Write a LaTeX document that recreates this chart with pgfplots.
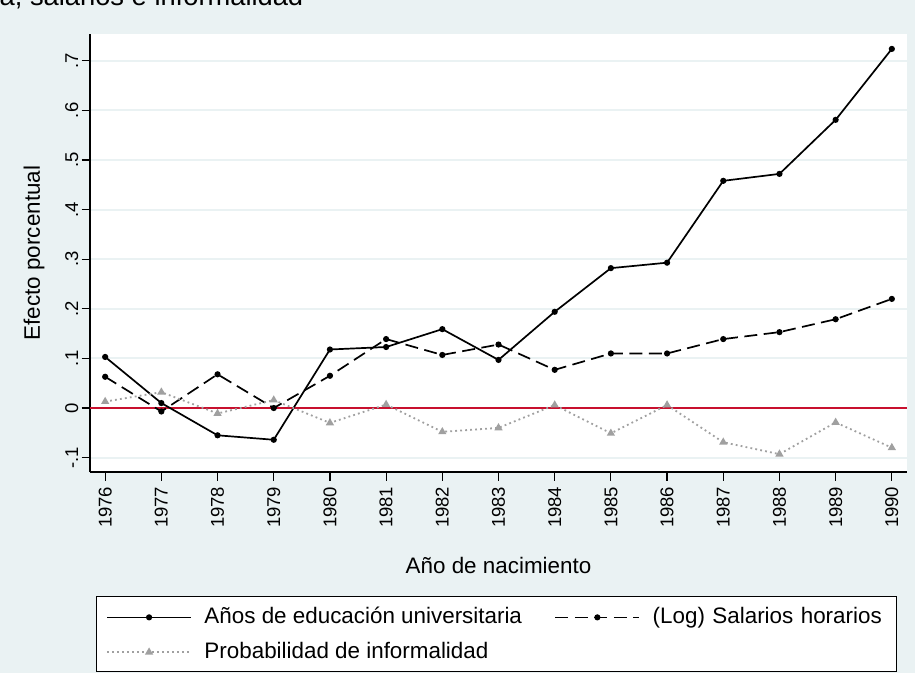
\documentclass[border=0pt]{standalone}
\usepackage{pgfplots}
\pgfplotsset{compat=1.18}
\usepackage{fontspec}
\setmainfont{Liberation Sans}
\definecolor{bg}{RGB}{234,242,243}
\definecolor{zeroline}{RGB}{200,16,46}
\definecolor{dotgray}{RGB}{160,160,160}
\begin{document}
\begin{tikzpicture}[x=1pt,y=1pt]
\useasboundingbox (0,0) rectangle (915,-673);
\fill[bg] (0,0) rectangle (915,-673);
\node[anchor=base east, inner sep=0pt, font=\fontsize{27.3}{30}\selectfont] at (303.5,-5.5) {Educación universitaria, salarios e informalidad};
\begin{axis}[
  at={(90pt,-472pt)}, anchor=south west,
  width=817pt, height=438pt, scale only axis,
  xmin=1975.73, xmax=1990.27, ymin=-0.129, ymax=0.754,
  axis background/.style={fill=white},
  axis lines*=left, axis line style={line width=1.4pt, -},
  tick align=outside, major tick length=8.5pt,
  tick style={black, line width=1.2pt},
  ymajorgrids, grid style={bg, line width=2pt},
  xtick={1976,1977,1978,1979,1980,1981,1982,1983,1984,1985,1986,1987,1988,1989,1990},
  xticklabels={1976,1977,1978,1979,1980,1981,1982,1983,1984,1985,1986,1987,1988,1989,1990},
  ytick={-0.1,0,0.1,0.2,0.3,0.4,0.5,0.6,0.7},
  yticklabels={-.1,0,.1,.2,.3,.4,.5,.6,.7},
  /pgf/number format/assume math mode=true,
  xticklabel style={rotate=90, anchor=east, inner sep=0pt, font=\fontsize{18.5}{21}\selectfont},
  yticklabel style={rotate=90, anchor=base, inner sep=0pt, font=\fontsize{18.5}{21}\selectfont},
  xticklabel shift=6pt,
  yticklabel shift=3.5pt,
  xlabel={Año de nacimiento},
  xlabel style={at={(axis description cs:0.5,0)}, anchor=base, yshift=-101pt, font=\fontsize{22.4}{26}\selectfont},
  ylabel={Efecto porcentual},
  ylabel style={at={(axis description cs:-0.0612,0.5)}, anchor=base, font=\fontsize{22.4}{26}\selectfont},
  legend columns=2,
  legend cell align=left,
  legend style={at={(axis description cs:0.00734,-0.2831)}, anchor=north west,
    draw=black, fill=white, inner xsep=10pt, inner ysep=9.5pt,
    row sep=13.5pt, font=\fontsize{22.4}{26}\selectfont,
    nodes={inner sep=0pt, text height=17.5pt, text depth=3pt},
    /tikz/every odd column/.append style={column sep=12.5pt},
    /tikz/column 2/.append style={column sep=32.5pt},
    /tikz/column 4/.append style={text width=233pt, align=left}},
  legend image code/.code={\path (0pt,-9.8pt) (0pt,9.8pt); \draw[mark repeat=2, mark phase=2, #1] plot coordinates {(0pt,-1pt) (42pt,-1pt) (84pt,-1pt)};},
]
\addplot[zeroline, line width=1.8pt, forget plot] coordinates {(1975.73,0) (1990.27,0)};
\addplot[black, line width=1.7pt, mark=*, mark size=2.2pt] coordinates {
(1976,0.103) (1977,0.010) (1978,-0.055) (1979,-0.064) (1980,0.118) (1981,0.123) (1982,0.159) (1983,0.097) (1984,0.194) (1985,0.282) (1986,0.293) (1987,0.458) (1988,0.472) (1989,0.581) (1990,0.724)};
\addlegendentry{Años de educación universitaria}
\addplot[black, line width=1.7pt, dash pattern=on 13pt off 6.5pt, mark=*, mark size=2.2pt, mark options={solid}] coordinates {
(1976,0.063) (1977,-0.007) (1978,0.068) (1979,0.000) (1980,0.065) (1981,0.139) (1982,0.107) (1983,0.128) (1984,0.077) (1985,0.110) (1986,0.110) (1987,0.139) (1988,0.153) (1989,0.179) (1990,0.220)};
\addlegendentry{(Log) Salarios horarios}
\addplot[dotgray, line width=1.8pt, dash pattern=on 1.8pt off 3.2pt, mark=triangle*, mark size=3pt, mark options={solid, fill=dotgray}] coordinates {
(1976,0.013) (1977,0.032) (1978,-0.011) (1979,0.016) (1980,-0.030) (1981,0.007) (1982,-0.048) (1983,-0.040) (1984,0.006) (1985,-0.051) (1986,0.006) (1987,-0.069) (1988,-0.093) (1989,-0.029) (1990,-0.080)};
\addlegendentry{Probabilidad de informalidad}
\end{axis}
\end{tikzpicture}
\end{document}
